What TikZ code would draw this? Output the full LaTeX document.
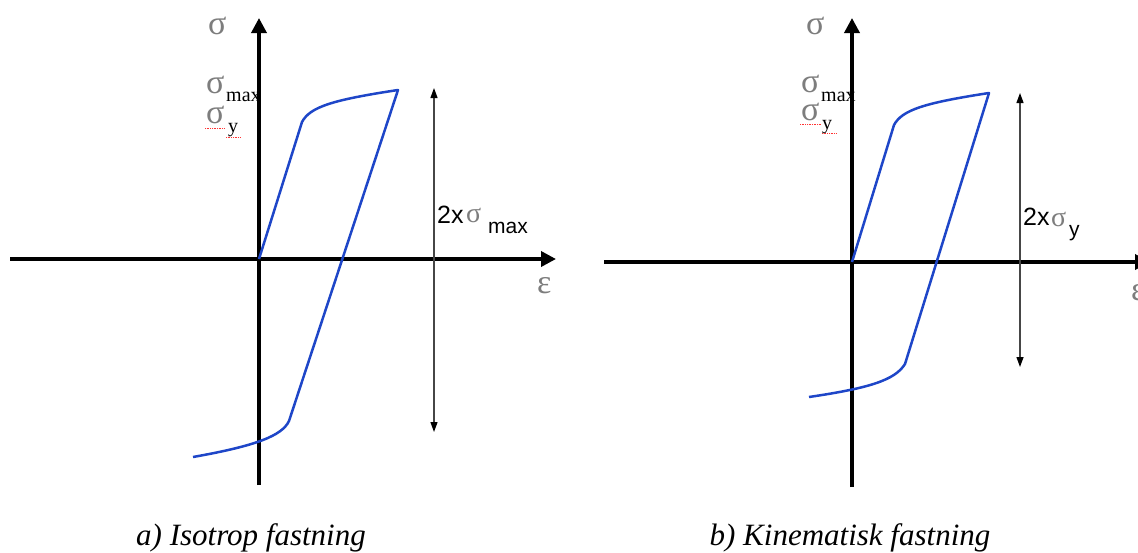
\documentclass[tikz,border=0pt]{standalone}
\usepackage{fontspec}
\setmainfont{Liberation Serif}
\newfontfamily\arialfont{Liberation Sans}
\usetikzlibrary{arrows.meta}
\definecolor{curveblue}{RGB}{30,70,200}
\definecolor{symgray}{RGB}{125,125,125}
\tikzset{
  axisline/.style={line width=3.5pt,-{Triangle[width=15pt,length=15pt]}},
  hyst/.style={curveblue,line width=2.5pt,line join=round},
  dimline/.style={line width=1.2pt,draw=gray!55!black,{Triangle[width=7pt,length=10pt,color=black,fill=black]}-{Triangle[width=7pt,length=10pt,color=black,fill=black]}},
  lbl/.style={inner sep=0pt,anchor=base west},
  sym/.style={lbl,text=symgray,font=\fontsize{34}{34}\selectfont},
  sub/.style={lbl,font=\fontsize{20}{20}\selectfont},
  asans/.style={lbl,font=\arialfont\fontsize{25}{25}\selectfont},
  asub/.style={lbl,font=\arialfont\fontsize{21}{21}\selectfont},
  squig/.style={red!80,densely dotted,line width=0.7pt},
  caption/.style={inner sep=0pt,anchor=base,font=\itshape\fontsize{31}{31}\selectfont}
}
\begin{document}
\begin{tikzpicture}[x=1pt,y=-1pt]
\useasboundingbox (0,0) rectangle (1138,552);
% ---------- left panel ----------
\coordinate (LxS) at (10,259);
\coordinate (LxE) at (556,259);
\coordinate (LyS) at (259,485);
\coordinate (LyE) at (259,18);
\draw[axisline] (LxS) -- (LxE);
\draw[axisline] (LyS) -- (LyE);
\coordinate (LO) at (259,259);
\coordinate (LK1) at (302,122);
\coordinate (LT) at (398,90);
\coordinate (LK2) at (289,421);
\coordinate (LE) at (193,457);
\draw[hyst] (LO) -- (LK1) .. controls (310,107) and (332,100) .. (LT) -- (LK2) .. controls (282,436) and (255,446) .. (LE);
\coordinate (LdT) at (434,88);
\coordinate (LdB) at (434,432);
\draw[dimline] (LdT) -- (LdB);
\node[sym] (Lsig) at (208,34) {σ};
\node[sym] (Lsmax) at (206,93) {σ};
\node[sub] (Lmax) at (226,101) {max};
\node[sym] (Lsy) at (206,123) {σ};
\node[sub] (Ly) at (228,132) {y};
\coordinate (Lq1) at (205,128);
\coordinate (Lq2) at (225,128);
\coordinate (Lq3) at (226,137);
\coordinate (Lq4) at (240,137);
\draw[squig] (Lq1) -- (Lq2);
\draw[squig] (Lq3) -- (Lq4);
\node[asans] (L2x) at (437,223) {2x};
\node[sym,font=\fontsize{28}{28}\selectfont] (L2s) at (466,222) {σ};
\node[asub] (L2m) at (488,233) {max};
\node[sym] (Leps) at (537,293) {ε};
\node[caption] (Lcap) at (251,545) {a) Isotrop fastning};
% ---------- right panel ----------
\coordinate (RxS) at (604,262);
\coordinate (RxE) at (1150,262);
\coordinate (RyS) at (852,487);
\coordinate (RyE) at (852,18);
\draw[axisline] (RxS) -- (RxE);
\draw[axisline] (RyS) -- (RyE);
\coordinate (RO) at (852,262);
\coordinate (RK1) at (894,125);
\coordinate (RT) at (989,93);
\coordinate (RK2) at (905,364);
\coordinate (RE) at (809,397);
\draw[hyst] (RO) -- (RK1) .. controls (902,110) and (924,103) .. (RT) -- (RK2) .. controls (895,380) and (870,388) .. (RE);
\coordinate (RdT) at (1020,93);
\coordinate (RdB) at (1020,367);
\draw[dimline] (RdT) -- (RdB);
\node[sym] (Rsig) at (806,34) {σ};
\node[sym] (Rsmax) at (801,92) {σ};
\node[sub] (Rmax) at (821,101) {max};
\node[sym] (Rsy) at (801,120) {σ};
\node[sub] (Ry) at (822,129) {y};
\coordinate (Rq1) at (800,124);
\coordinate (Rq2) at (821,124);
\coordinate (Rq3) at (822,133);
\coordinate (Rq4) at (836,133);
\draw[squig] (Rq1) -- (Rq2);
\draw[squig] (Rq3) -- (Rq4);
\node[asans] (R2x) at (1023,225) {2x};
\node[sym,font=\fontsize{28}{28}\selectfont] (R2s) at (1051,226) {σ};
\node[asub] (R2y) at (1069,236) {y};
\node[sym] (Reps) at (1131,300) {ε};
\node[caption] (Rcap) at (850,545) {b) Kinematisk fastning};
\end{tikzpicture}
\end{document}
